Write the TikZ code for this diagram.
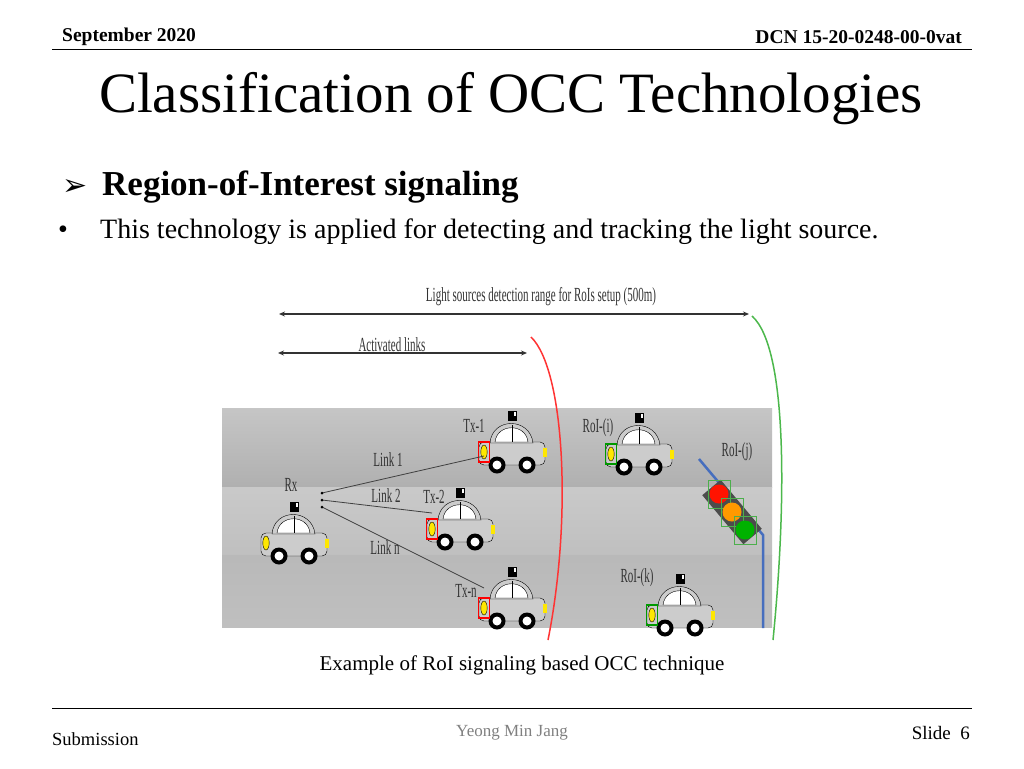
\documentclass[tikz,border=0pt]{standalone}
\usepackage{fontspec}
\usetikzlibrary{arrows.meta}
\setmainfont{Liberation Serif}
\newfontfamily\djv{DejaVu Sans}
\newfontfamily\narrow{Liberation Serif}[FakeStretch=0.55]
\definecolor{steel}{RGB}{70,110,190}
\begin{document}
\begin{tikzpicture}[x=1pt,y=-1pt,
  hdr/.style={font=\fontsize{19.5}{21}\selectfont\bfseries,inner sep=0},
  lbl/.style={font=\narrow\fontsize{20}{22}\selectfont,text=black!80,inner sep=0},
  dim/.style={line width=1.6pt,black!80,{Stealth[length=6pt,width=5pt]}-{Stealth[length=6pt,width=5pt]}},
  link/.style={black!75,line width=0.8pt}]
\useasboundingbox (0,0) rectangle (1024,768);
\fill[white] (0,0) rectangle (1024,768);
% header
\node[hdr,anchor=west] (date) at (62,37) {September 2020};
\node[hdr,anchor=east] (dcn) at (962,37) {DCN 15-20-0248-00-0vat};
\draw[line width=1pt] (52,50) -- (972,50);
\node[font=\fontsize{57}{60}\selectfont,inner sep=0] (title) at (511,99) {Classification of OCC Technologies};
\node[anchor=west,inner sep=0,font=\djv\fontsize{30}{32}\selectfont] (arr) at (62,187) {➢};
\node[anchor=west,inner sep=0,font=\fontsize{35}{38}\selectfont\bfseries] (h1) at (102,187) {Region-of-Interest signaling};
\node[anchor=west,inner sep=0,font=\fontsize{28}{30}\selectfont] (b) at (58,232) {•};
\node[anchor=west,inner sep=0,font=\fontsize{28}{30}\selectfont] (t1) at (100,232) {This technology is applied for detecting and tracking the light source.};
% road
\shade[top color=gray!45,bottom color=gray!62] (222,408) rectangle (772,487);
\shade[top color=gray!42,bottom color=gray!50] (222,487) rectangle (772,555);
\shade[top color=gray!55,bottom color=gray!50] (222,555) rectangle (772,627);
% dimension arrows
\coordinate (l1a) at (279,314); \coordinate (l1b) at (749,314);
\draw[dim] (l1a) -- (l1b);
\node[lbl] (lr) at (541,297) {Light sources detection range for RoIs setup (500m)};
\coordinate (l2a) at (278,353); \coordinate (l2b) at (527,353);
\draw[dim] (l2a) -- (l2b);
\node[lbl] (al) at (392,345) {Activated links};
% curves
\coordinate (r0) at (531,337); \coordinate (r1) at (548,640);
\draw[red!80!white,line width=1.5pt] (r0) .. controls (565,370) and (572,520) .. (r1);
\coordinate (g0) at (752,316); \coordinate (g1) at (773,640);
\draw[green!60!black!70!white,line width=1.5pt] (g0) .. controls (790,350) and (785,520) .. (g1);
% car macro
\newcommand\drawcar[3]{%
\begin{scope}[shift={(#1,#2)}]
\draw[fill=gray!40,rounded corners=5] (2,25) rectangle (68,48);
\draw[fill=gray!40] (13,26) .. controls (15,0) and (53,0) .. (56,26) -- cycle;
\draw[fill=white] (18,25) .. controls (20,6) and (49,6) .. (51,25) -- cycle;
\draw (35,8) -- (35,25);
\fill[black] (31,-6) rectangle (40,4);
\fill[white] (37,-5) rectangle (38.5,-1);
\foreach \w in {20,50}{\fill[black] (\w,48) circle (8.5); \fill[white] (\w,48) circle (4.5);}
\draw[fill=yellow!90!orange] (7,35) ellipse (3.2 and 7);
\fill[yellow!90!orange] (66,31) rectangle (69.5,40);
\draw[draw=#3,line width=1.2pt] (1.5,25) rectangle (12.5,45);
\end{scope}}
\drawcar{259}{508}{none}
\drawcar{477}{417}{red}
\drawcar{425}{494}{red}
\drawcar{477}{573}{red}
\drawcar{604}{419}{green!60!black}
\drawcar{645}{580}{green!60!black}
% traffic light
\coordinate (p0) at (699,459); \coordinate (p1) at (763,535); \coordinate (p2) at (763,628);
\draw[steel,line width=2.5pt] (p0) -- (p1) -- (p2);
\fill[gray!60!black,rotate around={-50:(732,512)}] (700,500) rectangle (764,524);
\foreach \cx/\cy/\cc in {719/494/red!85!orange,732/512/orange!80!yellow,745/530/green!70!black}{
  \fill[\cc] (\cx,\cy) circle (9.5);
  \draw[green!55!black!70!white,line width=1pt] (\cx-11,\cy-14) rectangle (\cx+11,\cy+14);}
% links
\coordinate (rx1) at (322,493); \coordinate (rx2) at (322,500); \coordinate (rx3) at (322,507);
\coordinate (tx1) at (484,456); \coordinate (tx2) at (432,513); \coordinate (tx3) at (484,588);
\draw[link] (rx1) -- (tx1); \draw[link] (rx2) -- (tx2); \draw[link] (rx3) -- (tx3);
\foreach \p in {rx1,rx2,rx3}{\fill (\p) circle (1.5);}
\node[lbl] (k1) at (388,460) {Link 1};
\node[lbl] (k2) at (386,496) {Link 2};
\node[lbl] (kn) at (385,548) {Link n};
\node[lbl] (rxl) at (291,485) {Rx};
\node[lbl] (t1l) at (474,426) {Tx-1};
\node[lbl] (t2l) at (434,497) {Tx-2};
\node[lbl] (tnl) at (466,591) {Tx-n};
\node[lbl] (ril) at (598,428) {RoI-(i)};
\node[lbl] (rjl) at (737,452) {RoI-(j)};
\node[lbl] (rkl) at (637,578) {RoI-(k)};
% caption and footer
\node[inner sep=0,font=\fontsize{21}{23}\selectfont] (cap) at (522,665) {Example of RoI signaling based OCC technique};
\draw[line width=1pt] (52,708) -- (972,708);
\node[anchor=west,inner sep=0,font=\fontsize{18.5}{20}\selectfont] (sub) at (52,739) {Submission};
\node[inner sep=0,text=gray,font=\fontsize{17}{19}\selectfont] (auth) at (512,733) {Yeong Min Jang};
\node[anchor=east,inner sep=0,font=\fontsize{19}{21}\selectfont] (sl) at (970,733) {Slide\enspace 6};
\end{tikzpicture}
\end{document}
